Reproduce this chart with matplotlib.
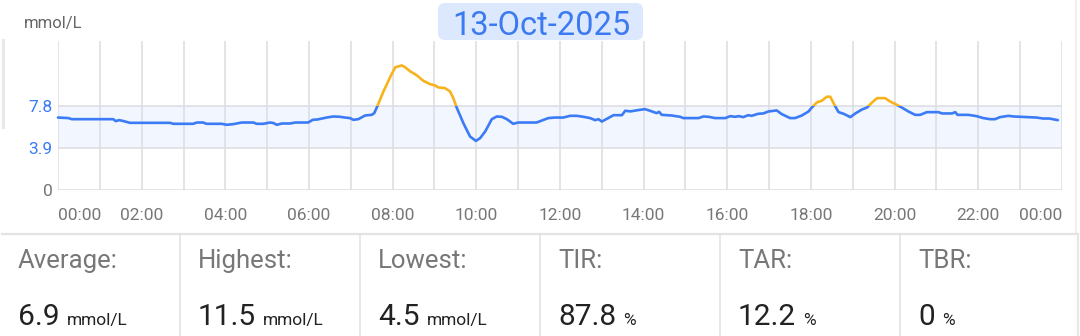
import matplotlib
matplotlib.use("Agg")
import matplotlib.pyplot as plt
from matplotlib.patches import FancyBboxPatch, Rectangle
from matplotlib.lines import Line2D
from matplotlib.transforms import IdentityTransform

plt.rcParams['font.family'] = ['Roboto', 'DejaVu Sans']

# ---------------- data ----------------
hours = [0.00, 0.25, 0.33, 1.32, 1.38, 1.46, 1.55, 1.72, 2.68, 2.76, 3.23, 3.32, 3.47, 3.55, 3.91,
         4.03, 4.19, 4.39, 4.67, 4.75, 4.91, 5.07, 5.15, 5.23, 5.35, 5.55, 5.67, 5.98, 6.09, 6.20,
         6.42, 6.58, 6.74, 6.86, 6.98, 7.06, 7.18, 7.34, 7.50, 7.56, 7.62, 7.78, 7.94, 8.06, 8.22,
         8.30, 8.42, 8.58, 8.73, 8.89, 9.01, 9.09, 9.25, 9.37, 9.45, 9.53, 9.69, 9.85, 9.99, 10.09,
         10.21, 10.37, 10.49, 10.61, 10.73, 10.88, 11.00, 11.44, 11.72, 11.88, 12.08, 12.24, 12.40,
         12.56, 12.72, 12.84, 12.92, 13.00, 13.12, 13.28, 13.48, 13.56, 13.68, 13.87, 14.03, 14.15,
         14.31, 14.37, 14.43, 14.67, 14.87, 14.95, 15.31, 15.43, 15.55, 15.71, 15.95, 16.07, 16.19,
         16.27, 16.38, 16.50, 16.58, 16.74, 16.86, 16.98, 17.18, 17.30, 17.42, 17.50, 17.62, 17.78,
         17.94, 18.02, 18.14, 18.26, 18.38, 18.46, 18.58, 18.66, 18.78, 18.94, 19.06, 19.22, 19.34,
         19.46, 19.58, 19.77, 19.89, 20.05, 20.17, 20.33, 20.49, 20.61, 20.77, 21.05, 21.13, 21.37,
         21.45, 21.50, 21.76, 21.96, 22.12, 22.28, 22.40, 22.52, 22.72, 22.84, 23.00, 23.39, 23.55,
         23.70, 23.90]
glucose = [6.71, 6.66, 6.56, 6.56, 6.38, 6.47, 6.40, 6.22, 6.22, 6.13, 6.13, 6.25, 6.25, 6.13, 6.13,
           6.04, 6.10, 6.25, 6.25, 6.13, 6.13, 6.25, 6.20, 6.04, 6.16, 6.16, 6.25, 6.25, 6.50, 6.53,
           6.71, 6.81, 6.78, 6.71, 6.66, 6.50, 6.56, 6.90, 6.96, 7.12, 7.64, 9.13, 10.45, 11.36, 11.54,
           11.36, 10.99, 10.61, 10.12, 9.81, 9.69, 9.50, 9.44, 9.13, 8.51, 7.64, 6.19, 4.95, 4.55, 4.80,
           5.41, 6.56, 6.81, 6.78, 6.56, 6.13, 6.25, 6.25, 6.66, 6.71, 6.71, 6.87, 6.87,
           6.78, 6.66, 6.47, 6.56, 6.34, 6.59, 6.93, 6.93, 7.34, 7.28, 7.40, 7.49, 7.34,
           7.12, 7.24, 6.96, 6.90, 6.78, 6.66, 6.66, 6.81, 6.78, 6.66, 6.66, 6.84, 6.78,
           6.84, 6.75, 6.93, 6.87, 7.06, 7.09, 7.27, 7.37, 7.03, 6.81, 6.66, 6.66, 6.90,
           7.27, 7.64, 8.11, 8.27, 8.64, 8.64, 7.74, 7.21, 7.06, 6.75, 7.09, 7.46, 7.64,
           8.11, 8.51, 8.51, 8.20, 7.89, 7.64, 7.27, 6.96, 6.96, 7.21, 7.21, 7.09, 7.09,
           7.21, 6.96, 6.96, 6.84, 6.66, 6.56, 6.56, 6.75, 6.87, 6.81, 6.78, 6.71, 6.62,
           6.62, 6.47]

date_label = "13-Oct-2025"
unit_label = "mmol/L"
range_low, range_high = 3.9, 7.8
y_ticks = [0, 3.9, 7.8]
y_tick_labels = ["0", "3.9", "7.8"]
x_major = list(range(0, 25, 2))
x_labels = ["00:00", "02:00", "04:00", "06:00", "08:00", "10:00", "12:00",
            "14:00", "16:00", "18:00", "20:00", "22:00", "00:00"]

stat_names = ["Average:", "Highest:", "Lowest:", "TIR:", "TAR:", "TBR:"]
stat_values = ["6.9", "11.5", "4.5", "87.8", "12.2", "0"]
stat_units = ["mmol/L", "mmol/L", "mmol/L", "%", "%", "%"]

# ---------------- style ----------------
BLUE = "#3b7bf6"
ORANGE = "#f8b21c"
GRID = "#dcdde1"
TXT_GRAY = "#777777"

W, H = 1080, 336
fig = plt.figure(figsize=(W / 100, H / 100), dpi=100)
fig.patch.set_facecolor("white")

ax = fig.add_axes([58 / W, 1 - 190 / H, (1062 - 58) / W, (190 - 41) / H])
ax.set_xlim(0, 24)
ax.set_ylim(0, 13.8)

ax.axhspan(range_low, range_high, color="#f2f6fe", zorder=0, lw=0)

ax.set_xticks(x_major)
ax.set_xticks(range(1, 24, 2), minor=True)
ax.set_xticklabels(x_labels)
ax.set_yticks(y_ticks)
ax.set_yticklabels(y_tick_labels)
ax.grid(True, which="both", axis="x", color=GRID, lw=1.1)
ax.grid(True, which="major", axis="y", color=GRID, lw=1.1)
ax.set_axisbelow(True)
for s in ax.spines.values():
    s.set_visible(False)
ax.tick_params(axis="both", which="both", length=0)
ax.tick_params(axis="x", pad=13, labelsize=12.5, labelcolor=TXT_GRAY)
ax.tick_params(axis="y", pad=4, labelsize=12.5)
xl = ax.get_xticklabels()
xl[0].set_ha("left")
xl[-1].set_ha("right")
for lab, t in zip(ax.get_yticklabels(), y_ticks):
    lab.set_color(TXT_GRAY if t == 0 else BLUE)

ln_blue, = ax.plot(hours, glucose, color=BLUE, lw=1.9, solid_capstyle="round",
                   solid_joinstyle="round", zorder=3)
ln_or, = ax.plot(hours, glucose, color=ORANGE, lw=1.9, solid_capstyle="round",
                 solid_joinstyle="round", zorder=3)
clip_lo = Rectangle((-1, -5), 26, range_high + 5, transform=ax.transData)
clip_hi = Rectangle((-1, range_high), 26, 30, transform=ax.transData)
ln_blue.set_clip_path(clip_lo)
ln_or.set_clip_path(clip_hi)

# unit label
fig.text(24 / W, 1 - 28 / H, unit_label, fontsize=12, color="#666666", ha="left", va="baseline")

# date box
box = FancyBboxPatch((438, H - 40), 205, 37, boxstyle="round,pad=0,rounding_size=7",
                     transform=IdentityTransform(), facecolor="#dce8fd", edgecolor="none")
fig.patches.append(box)
fig.text(541 / W, 1 - 35 / H, date_label, fontsize=23.5, color="#3b7af0",
         ha="center", va="baseline")

# borders
fig.add_artist(Line2D([3 / W, 3 / W], [1 - 40 / H, 1 - 127 / H], color="#e9e9e9", lw=2.2))
fig.add_artist(Line2D([1076 / W, 1076 / W], [1, 1 - 234 / H], color="#efefef", lw=1.2))
fig.add_artist(Line2D([2 / W, 1078 / W], [1 - 234 / H, 1 - 234 / H], color="#e3e3e3", lw=1.6))
for i in range(1, 7):
    x = (180 * i - 0.5) / W if i < 6 else 1078 / W
    fig.add_artist(Line2D([x, x], [1 - 234 / H, 0], color="#e3e3e3", lw=1.2))

# stats
fig.canvas.draw()
renderer = fig.canvas.get_renderer()
for i, (n, v, u) in enumerate(zip(stat_names, stat_values, stat_units)):
    x0 = (180 * i + 18) / W
    fig.text(x0, 1 - 268 / H, n, fontsize=18.5, color=TXT_GRAY, ha="left", va="baseline")
    tv = fig.text(x0, 1 - 325 / H, v, fontsize=21.5, color="#222222", ha="left", va="baseline")
    x1 = tv.get_window_extent(renderer=renderer).x1
    fig.text((x1 + 7) / W, 1 - 325 / H, u, fontsize=12.5, color="#222222",
             ha="left", va="baseline")

fig.savefig("out.png", dpi=100)
